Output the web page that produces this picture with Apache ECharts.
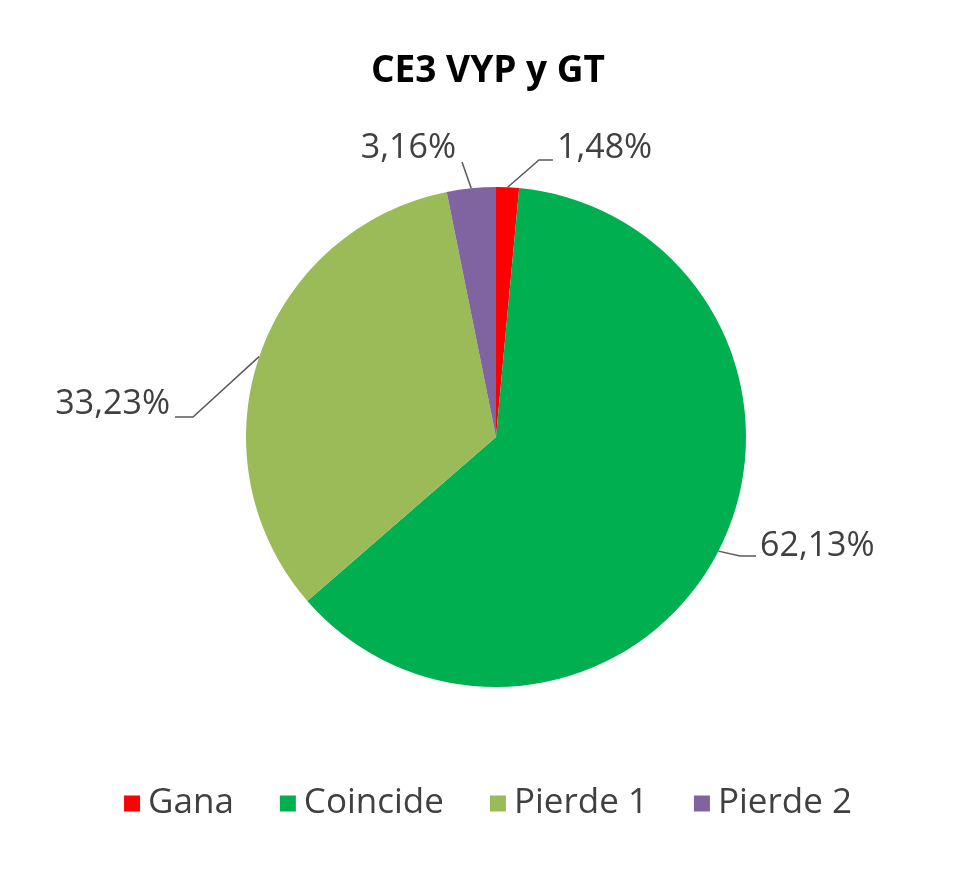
<!DOCTYPE html>
<html>
<head>
<meta charset="utf-8">
<script src="https://cdn.jsdelivr.net/npm/echarts@6/dist/echarts.min.js"></script>
<style>
html,body{margin:0;padding:0;background:#fff;}
#main{width:976px;height:870px;}
</style>
</head>
<body>
<div id="main"></div>
<script>
var categories = ["Gana", "Coincide", "Pierde 1", "Pierde 2"];
var values = [1.48, 62.13, 33.23, 3.16];
var colors = ["#FF0000", "#00B050", "#9BBB59", "#8064A2"];

// where Excel put each label (x, y, align) and the leader line bend offsets
var labelPos = [
    { x: 557, y: 148, align: 'left',  bend: [-18, 12], end: [-4, 12] },
    { x: 760, y: 546, align: 'left',  bend: [-20, 10], end: [-4, 10] },
    { x: 170, y: 404, align: 'right', bend: [23, 13],  end: [5, 13] },
    { x: 456, y: 148, align: 'right', bend: [6, 14],   end: [6, 14] }
];

var font = "'Open Sans', sans-serif";
var chart = echarts.init(document.getElementById('main'));

var data = categories.map(function (c, i) {
    return { name: c, value: values[i], itemStyle: { color: colors[i] } };
});

var option = {
    animation: false,
    title: {
        text: 'CE3 VYP y GT',
        left: 'center',
        top: 48,
        textStyle: { fontFamily: font, fontSize: 37, fontWeight: 'bold', color: '#000' }
    },
    legend: {
        data: categories,
        top: 781,
        left: 'center',
        icon: 'rect',
        itemWidth: 16,
        itemHeight: 16,
        itemGap: 46,
        textStyle: { fontFamily: font, fontSize: 35, color: '#404040', padding: [0, 0, 0, 3] }
    },
    series: [{
        type: 'pie',
        center: [496, 437],
        radius: 250,
        startAngle: 90,
        clockwise: true,
        data: data,
        label: {
            show: true,
            position: 'outside',
            fontFamily: font,
            fontSize: 34,
            color: '#404040',
            formatter: function (p) {
                return p.value.toFixed(2).replace('.', ',') + '%';
            }
        },
        labelLine: {
            show: true,
            length: 20,
            length2: 20,
            lineStyle: { color: '#595959', width: 1.5 }
        },
        labelLayout: function (params) {
            var lp = labelPos[params.dataIndex];
            var out = { x: lp.x, y: lp.y, align: lp.align, verticalAlign: 'middle' };
            if (params.labelLinePoints) {
                var a = params.labelLinePoints[0];
                out.labelLinePoints = [
                    [a[0], a[1]],
                    [lp.x + lp.bend[0], lp.y + lp.bend[1]],
                    [lp.x + lp.end[0], lp.y + lp.end[1]]
                ];
            }
            return out;
        },
        emphasis: { disabled: true }
    }]
};
chart.setOption(option);
</script>
</body>
</html>
